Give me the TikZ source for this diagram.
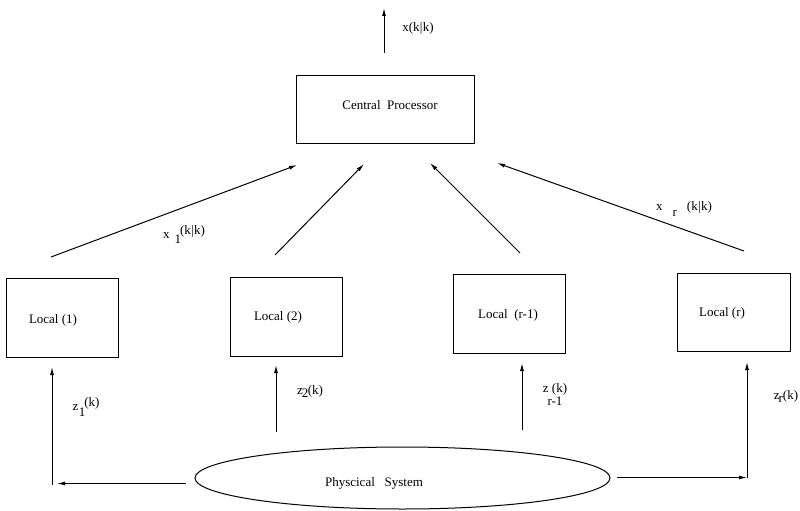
\documentclass[tikz,border=0pt]{standalone}
\usepackage{fontspec}
\setmainfont{Liberation Serif}
\usetikzlibrary{arrows.meta,shapes.geometric}
\begin{document}
\begin{tikzpicture}[x=1pt,y=-1pt,
  every node/.style={font=\fontsize{13}{14}\selectfont},
  box/.style={draw,line width=1pt,rectangle,inner sep=0pt},
  conn/.style={line width=1pt,-{Latex[length=8pt,width=4pt]}},
  plain/.style={line width=1pt}]
\useasboundingbox (0,0) rectangle (800,511);
% boxes
\node[box,minimum width=178pt,minimum height=68pt] (cp) at (385,109) {};
\node at (390,105) (cpt) {Central\ \ Processor};
\node[box,minimum width=112pt,minimum height=79pt] (l1) at (62,317.5) {};
\node[box,minimum width=112pt,minimum height=79pt] (l2) at (286,316.5) {};
\node[box,minimum width=112pt,minimum height=79pt] (l3) at (509,313.5) {};
\node[box,minimum width=113pt,minimum height=78pt] (l4) at (733.5,312) {};
\node at (53,320) (l1t) {Local (1)};
\node at (278,317) (l2t) {Local (2)};
\node at (508,315) (l3t) {Local\ \ (r-1)};
\node at (722,313) (l4t) {Local (r)};
% physical system
\node[draw,ellipse,line width=1pt,minimum width=415pt,minimum height=62pt,inner sep=0pt] (sys) at (402.5,478) {};
\node at (374,483) (syst) {Physcical\ \ \ System};
% coordinates
\coordinate (top0) at (384,53); \coordinate (top1) at (384,8);
\coordinate (a1s) at (51,257); \coordinate (a1e) at (297,165);
\coordinate (a2s) at (275,255); \coordinate (a2e) at (364,164);
\coordinate (a3s) at (520,253); \coordinate (a3e) at (430,163);
\coordinate (a4s) at (744,251); \coordinate (a4e) at (497,163);
\coordinate (hl0) at (186,483.5); \coordinate (hl1) at (57,483.5);
\coordinate (z1s) at (52,485); \coordinate (z1e) at (52,367);
\coordinate (z2s) at (276,432); \coordinate (z2e) at (276,365);
\coordinate (z3s) at (522,430); \coordinate (z3e) at (522,363);
\coordinate (hr0) at (617,477.5); \coordinate (hr1) at (747,477.5);
\coordinate (z4s) at (747,477.5); \coordinate (z4e) at (747,362);
% connectors
\draw[conn] (top0) -- (top1);
\draw[conn] (a1s) -- (a1e);
\draw[conn] (a2s) -- (a2e);
\draw[conn] (a3s) -- (a3e);
\draw[conn] (a4s) -- (a4e);
\draw[conn] (hl0) -- (hl1);
\draw[conn] (z1s) -- (z1e);
\draw[conn] (z2s) -- (z2e);
\draw[conn] (z3s) -- (z3e);
\draw[conn] (hr0) -- (hr1);
\draw[conn] (z4s) -- (z4e);
% labels
\node at (418,28) (lx) {x(k\kern0.3pt|\kern0.3ptk)};
\node at (184,234) (lx1) {x\hspace{5pt}\raisebox{-5pt}{1}\kern-1pt\raisebox{4pt}{(k\kern0.3pt|\kern0.3ptk)}};
\node at (684,209) (lxr) {x\hspace{10pt}\raisebox{-6pt}{r}\hspace{10pt}(k\kern0.3pt|\kern0.3ptk)};
\node at (86,407) (lz1) {z\kern0.5pt\raisebox{-6pt}{1}\kern-1pt\raisebox{4pt}{(k)}};
\node at (310,391) (lz2) {z\kern-1pt\raisebox{-3pt}{2}\kern-0.5pt(k)};
\node at (555,396) (lz3) {\begin{tabular}{@{}c@{}}z (k)\\[-1.5pt]r-1\end{tabular}};
\node at (786,396) (lz4) {z\kern-1pt\raisebox{-3pt}{r}(k)};
\end{tikzpicture}
\end{document}
